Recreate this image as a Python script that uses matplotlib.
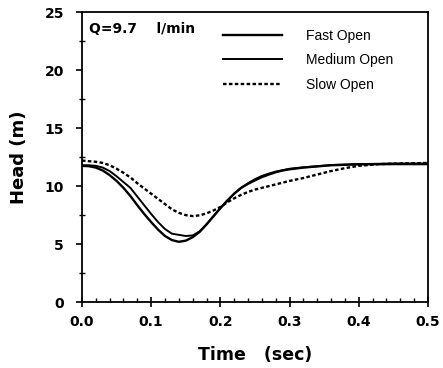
import matplotlib.pyplot as plt
from matplotlib.ticker import MultipleLocator

# Head response for three valve opening speeds (Q = 9.7 l/min)
time_fast = [0.00, 0.01, 0.02, 0.03, 0.04, 0.05, 0.06, 0.07, 0.08, 0.09, 0.10, 0.11, 0.12, 0.13,
             0.14, 0.15, 0.16, 0.17, 0.18, 0.19, 0.20, 0.21, 0.22, 0.23, 0.24, 0.25, 0.26, 0.27,
             0.28, 0.29, 0.30, 0.32, 0.34, 0.36, 0.40, 0.45, 0.50]
head_fast = [11.75, 11.72, 11.6, 11.35, 10.95, 10.45, 9.85, 9.15, 8.35, 7.6, 6.9, 6.25, 5.7, 5.35,
             5.2, 5.3, 5.6, 6.05, 6.7, 7.4, 8.1, 8.75, 9.35, 9.85, 10.2, 10.5, 10.78, 11.0,
             11.2, 11.35, 11.45, 11.6, 11.7, 11.8, 11.88, 11.9, 11.9]

time_medium = [0.00, 0.01, 0.02, 0.03, 0.04, 0.05, 0.06, 0.07, 0.08, 0.09, 0.10, 0.11, 0.12, 0.13,
               0.14, 0.15, 0.16, 0.17, 0.18, 0.19, 0.20, 0.21, 0.22, 0.23, 0.24, 0.25, 0.26, 0.27,
               0.28, 0.30, 0.32, 0.34, 0.36, 0.40, 0.45, 0.50]
head_medium = [11.8, 11.8, 11.75, 11.6, 11.3, 10.85, 10.35, 9.85, 9.1, 8.35, 7.6, 6.9, 6.3, 5.9,
               5.8, 5.7, 5.75, 6.1, 6.7, 7.4, 8.1, 8.75, 9.35, 9.85, 10.25, 10.6, 10.88, 11.08,
               11.25, 11.5, 11.62, 11.72, 11.82, 11.9, 11.95, 11.95]

time_slow = [0.00, 0.01, 0.02, 0.03, 0.04, 0.05, 0.06, 0.07, 0.08, 0.09, 0.10, 0.11, 0.12, 0.13,
             0.14, 0.15, 0.16, 0.17, 0.18, 0.19, 0.20, 0.21, 0.22, 0.23, 0.24, 0.25, 0.26, 0.28,
             0.30, 0.32, 0.34, 0.36, 0.38, 0.40, 0.43, 0.46, 0.50]
head_slow = [12.2, 12.15, 12.1, 12.0, 11.8, 11.5, 11.15, 10.75, 10.25, 9.8, 9.35, 8.9, 8.45, 8.0,
             7.7, 7.5, 7.42, 7.48, 7.65, 7.9, 8.2, 8.6, 8.95, 9.25, 9.5, 9.7, 9.85, 10.15,
             10.45, 10.7, 11.0, 11.3, 11.55, 11.75, 11.9, 11.95, 12.0]

plt.rcParams['font.family'] = ['DejaVu Sans']

fig = plt.figure(figsize=(4.43, 3.68), dpi=100)
ax = fig.add_axes([0.185, 0.179, 0.781, 0.788])

ax.plot(time_fast, head_fast, color='black', lw=1.7, label='Fast Open')
ax.plot(time_medium, head_medium, color='black', lw=1.4, label='Medium Open')
ax.plot(time_slow, head_slow, color='black', lw=1.7, ls=(0, (1.5, 1.0)), label='Slow Open')

ax.set_xlim(0, 0.5)
ax.set_ylim(0, 25)
ax.xaxis.set_minor_locator(MultipleLocator(0.02))
ax.yaxis.set_major_locator(MultipleLocator(5))
ax.yaxis.set_minor_locator(MultipleLocator(2.5))
ax.set_xticks([0.0, 0.1, 0.2, 0.3, 0.4, 0.5], ['0.0', '0.1', '0.2', '0.3', '0.4', '0.5'])
ax.tick_params(axis='x', which='major', direction='inout', length=7, width=1.2, pad=6)
ax.tick_params(axis='x', which='minor', direction='in', length=3, width=1.0)
ax.tick_params(axis='y', which='major', direction='out', length=4, width=1.2, pad=9)
ax.tick_params(axis='y', which='minor', direction='inout', length=4, width=1.0)
ax.tick_params(labelsize=10)
for lab in ax.get_xticklabels() + ax.get_yticklabels():
    lab.set_fontweight('bold')
for sp in ax.spines.values():
    sp.set_linewidth(1.3)

ax.set_xlabel('Time   (sec)', fontsize=12.5, fontweight='bold', labelpad=12)
ax.set_ylabel('Head (m)', fontsize=13, fontweight='bold', labelpad=12)

ax.text(0.02, 0.965, 'Q=9.7    l/min', transform=ax.transAxes, fontsize=10,
        fontweight='bold', va='top', ha='left')
ax.legend(loc='upper left', bbox_to_anchor=(0.407, 0.943), frameon=False,
          prop={'family': 'Liberation Sans', 'size': 10}, borderpad=0, borderaxespad=0,
          handlelength=4.3, handletextpad=1.7, labelspacing=0.75)

fig.savefig('out.png', dpi=100)
